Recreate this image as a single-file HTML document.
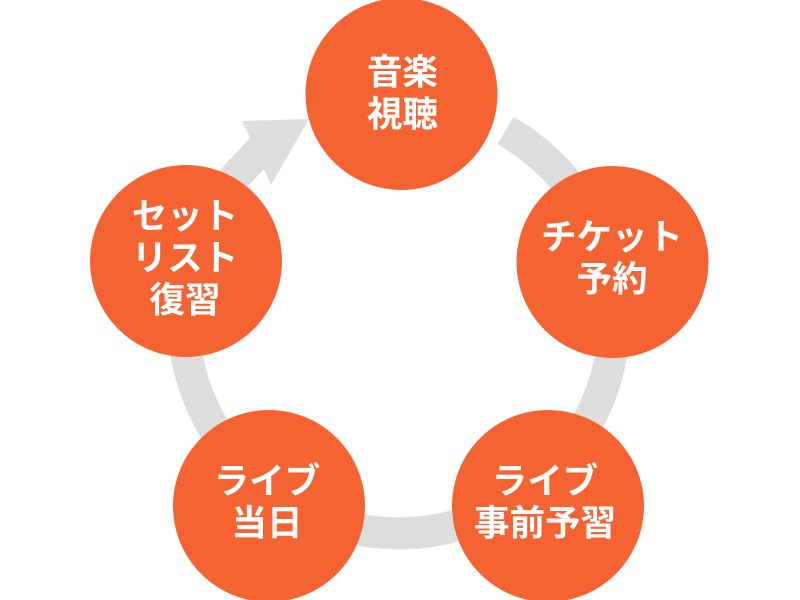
<!DOCTYPE html>
<html lang="ja"><head><meta charset="utf-8"><title>diagram</title>
<style>html,body{margin:0;padding:0;background:#fff}svg{display:block}
text{font-family:"Liberation Sans","Noto Sans CJK JP",sans-serif;font-weight:700;font-size:35.500px;fill:#fff;text-anchor:middle}</style>
</head><body>
<svg width="800" height="600" viewBox="0 0 800 600" xmlns="http://www.w3.org/2000/svg">
<path d="M505.5 130.5A215.500 215.500 0 1 1 200 235" fill="none" stroke="#dddddd" stroke-width="32"/>
<polygon points="309,119 242,121 250,138 205,186 235,200 264,169 271,185" fill="#dddddd"/>
<g fill="#f66333">
<circle cx="401.500" cy="94" r="96"/>
<circle cx="612.500" cy="262" r="96"/>
<circle cx="548" cy="506" r="96"/>
<circle cx="269" cy="506" r="96"/>
<circle cx="186" cy="261" r="96"/>
</g>
<text x="402.500" y="84">音楽</text><text x="402.500" y="126">視聴</text>
<text x="612" y="249">チケット</text><text x="612" y="291">予約</text>
<text x="545" y="493">ライブ</text><text x="545" y="535">事前予習</text>
<text x="267" y="493">ライブ</text><text x="267" y="535">当日</text>
<text x="185" y="228">セット</text><text x="185" y="270">リスト</text><text x="185" y="312">復習</text>
</svg>
</body></html>
